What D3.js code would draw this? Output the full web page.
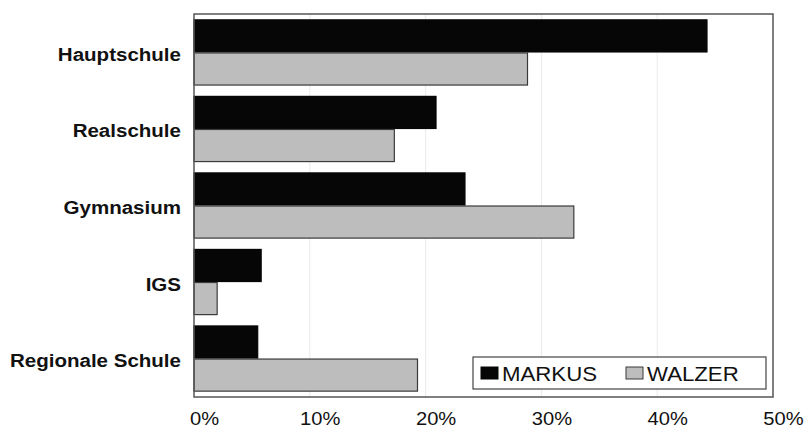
<!DOCTYPE html>
<html>
<head>
<meta charset="utf-8">
<script src="https://cdn.jsdelivr.net/npm/d3@7"></script>
<style>
  html, body { margin: 0; padding: 0; background: #fff; }
  svg { display: block; }
  text { font-family: Arial, "Liberation Sans", sans-serif; fill: #111; }
</style>
</head>
<body>
<svg id="chart" width="807" height="428"></svg>
<script>
// School types (top to bottom) and the share of each group, in percent
const categories = ["Hauptschule", "Realschule", "Gymnasium", "IGS", "Regionale Schule"];
const seriesNames = ["MARKUS", "WALZER"];
const markus = [44.3, 20.9, 23.4, 5.8, 5.5];
const walzer = [28.8, 17.3, 32.8, 2.0, 19.3];
const tickValues = [0, 10, 20, 30, 40, 50];
const tickLabels = ["0%", "10%", "20%", "30%", "40%", "50%"];

const series = [markus, walzer];
const fills = ["#060606", "#bdbdbd"];
const strokes = ["#060606", "#3a3a3a"];

const svg = d3.select("#chart");
const plot = { left: 194, right: 773, top: 14, bottom: 397 };

const x = d3.scaleLinear().domain([0, 50]).range([plot.left, plot.right]);
const y = d3.scaleBand().domain(categories).range([plot.top, plot.bottom])
  .paddingInner(0.135).paddingOuter(0.07);
const ySub = d3.scaleBand().domain(d3.range(series.length)).range([0, y.bandwidth()]).padding(0);

// vertical gridlines
svg.append("g").selectAll("line")
  .data(tickValues.slice(1, -1))
  .join("line")
  .attr("x1", d => x(d)).attr("x2", d => x(d))
  .attr("y1", plot.top).attr("y2", plot.bottom)
  .attr("stroke", "#eaeaea").attr("stroke-width", 1);

// bars
const rows = svg.append("g").selectAll("g")
  .data(categories)
  .join("g")
  .attr("transform", d => `translate(0,${y(d)})`);

rows.selectAll("rect")
  .data((c, i) => series.map((s, k) => ({ k, v: s[i] })))
  .join("rect")
  .attr("x", x(0))
  .attr("y", d => ySub(d.k) + 0.5)
  .attr("width", d => x(d.v) - x(0))
  .attr("height", ySub.bandwidth() - 1)
  .attr("fill", d => fills[d.k])
  .attr("stroke", d => strokes[d.k])
  .attr("stroke-width", 1.2);

// plot frame
svg.append("rect")
  .attr("x", plot.left).attr("y", plot.top)
  .attr("width", plot.right - plot.left).attr("height", plot.bottom - plot.top)
  .attr("fill", "none").attr("stroke", "#555").attr("stroke-width", 1.5);

// category labels (bold, slightly wide)
svg.append("g").selectAll("g")
  .data(categories)
  .join("g")
  .attr("transform", d => `translate(181,${y(d) + y.bandwidth() / 2 + 2}) scale(1.11,1)`)
  .append("text")
  .attr("text-anchor", "end")
  .attr("dy", "0.35em")
  .attr("font-size", 18.5)
  .attr("font-weight", "bold")
  .text(d => d);

// x-axis tick labels
const xAxis = d3.axisBottom(x)
  .tickValues(tickValues)
  .tickFormat((d, i) => tickLabels[i])
  .tickSize(0)
  .tickPadding(0);
const gx = svg.append("g").attr("transform", `translate(0,${plot.bottom})`).call(xAxis);
gx.select(".domain").remove();
gx.selectAll(".tick text")
  .attr("font-size", 18)
  .attr("font-family", "Arial, 'Liberation Sans', sans-serif")
  .attr("fill", "#111")
  .attr("y", 0)
  .attr("dy", 0)
  .attr("transform", "translate(10,28) scale(1.12,1)");

// legend
const legend = svg.append("g").attr("transform", "translate(473,357)");
legend.append("rect")
  .attr("width", 293).attr("height", 32)
  .attr("fill", "#fff").attr("stroke", "#444").attr("stroke-width", 1.2);
const items = legend.selectAll("g.item")
  .data(seriesNames)
  .join("g")
  .attr("class", "item")
  .attr("transform", (d, i) => `translate(${8 + i * 145},0)`);
items.append("rect")
  .attr("x", 0).attr("y", 10).attr("width", 17).attr("height", 12)
  .attr("fill", (d, i) => fills[i])
  .attr("stroke", (d, i) => strokes[i]).attr("stroke-width", 1);
items.append("g")
  .attr("transform", "translate(21,23.5) scale(1.14,1)")
  .append("text")
  .attr("font-size", 19.5)
  .text(d => d);
</script>
</body>
</html>
